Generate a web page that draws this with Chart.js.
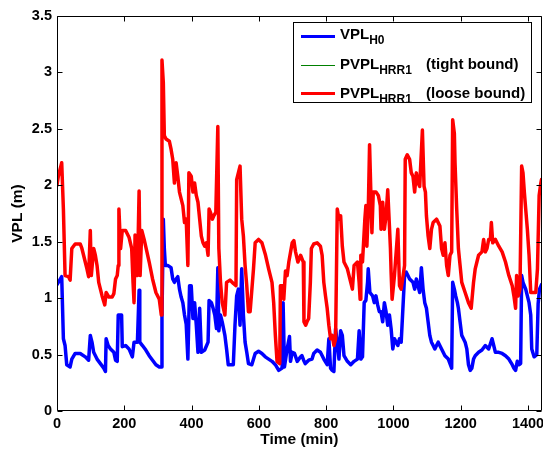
<!DOCTYPE html>
<html><head><meta charset="utf-8">
<script src="https://cdn.jsdelivr.net/npm/chart.js@4/dist/chart.umd.min.js"></script>
<style>
html,body{margin:0;padding:0;background:#fff;}
#wrap{position:relative;width:543px;height:451px;}
canvas{display:block}
#legend{position:absolute;left:293px;top:22px;width:239px;height:81px;border:1px solid #000;background:#fff;box-sizing:border-box;font-family:"Liberation Sans",Arial,sans-serif;font-weight:bold;color:#000;}
.ln{position:absolute;left:7px;width:34px;}
.txt{position:absolute;left:46px;font-size:15px;line-height:15px;white-space:nowrap;}
.txt sub{font-size:12px;vertical-align:baseline;position:relative;top:5px;}
.note{position:absolute;left:132px;font-size:15px;line-height:15px;white-space:nowrap;}
</style>
</head><body>
<div id="wrap">
<canvas id="c" width="543" height="451"></canvas>
<div id="legend"></div>
</div>
<script>
// ---- data ----
const xTickValues = [0, 200, 400, 600, 800, 1000, 1200, 1400];
const xTickLabels = ['0', '200', '400', '600', '800', '1000', '1200', '1400'];
const yTickValues = [0, 0.5, 1, 1.5, 2, 2.5, 3, 3.5];
const yTickLabels = ['0', '0.5', '1', '1.5', '2', '2.5', '3', '3.5'];
const xTitle = 'Time (min)';
const yTitle = 'VPL (m)';
const legendMain = ['VPL', 'PVPL', 'PVPL'];
const legendSub = ['H0', 'HRR1', 'HRR1'];
const legendNote = ['', '(tight bound)', '(loose bound)'];

const h0Time = [0,4,14,19,24,29,39,44,54,69,84,94,99,104,109,119,129,139,144,146,152,159,169,174,179,182,192,194,204,214,224,229,239,244,246,254,264,274,284,294,304,311,312,316,319,322,329,339,344,349,354,359,364,369,374,379,384,389,394,399,404,409,414,419,424,429,439,449,452,459,464,469,474,478,481,486,491,499,504,509,524,529,534,539,544,549,554,559,564,569,579,589,599,609,619,629,639,649,659,669,672,676,684,691,694,699,706,714,724,728,733,738,748,758,763,773,783,793,803,808,813,818,823,828,833,838,843,848,853,863,873,883,893,898,903,908,913,918,923,925,930,938,943,948,953,958,963,968,973,978,983,988,993,998,1003,1013,1018,1023,1033,1038,1043,1048,1058,1063,1068,1078,1083,1088,1093,1098,1103,1108,1113,1118,1123,1128,1133,1143,1153,1163,1173,1176,1181,1185,1190,1193,1198,1203,1208,1213,1218,1223,1228,1233,1238,1243,1253,1263,1273,1283,1293,1298,1303,1313,1323,1333,1343,1353,1358,1363,1368,1373,1378,1381,1385,1393,1403,1408,1411,1418,1426,1430,1434,1440];
const h0VPL = [1.12,1.14,1.19,0.64,0.58,0.41,0.39,0.46,0.51,0.51,0.48,0.45,0.67,0.61,0.52,0.46,0.42,0.38,0.35,0.64,0.58,0.55,0.52,0.45,0.44,0.85,0.85,0.57,0.58,0.55,0.48,0.61,0.61,1.07,0.61,0.58,0.54,0.49,0.45,0.41,0.39,0.39,0.82,1.70,1.44,1.29,1.29,1.27,1.17,1.14,1.17,1.19,1.08,1.01,0.96,0.85,0.77,0.46,1.11,1.11,0.82,0.96,0.76,0.52,0.91,0.52,0.54,0.61,0.98,0.96,0.91,0.85,0.73,1.27,0.71,0.85,0.79,0.67,0.55,0.41,0.41,0.76,1.02,1.08,0.76,1.26,0.85,0.61,0.52,0.42,0.41,0.51,0.53,0.51,0.48,0.46,0.44,0.41,0.36,0.38,0.96,0.39,0.55,0.66,0.44,0.52,0.51,0.44,0.48,0.49,0.45,0.42,0.45,0.46,0.51,0.54,0.52,0.46,0.41,0.64,0.38,0.36,0.35,0.73,0.61,0.46,0.71,0.67,0.49,0.44,0.41,0.44,0.46,0.71,0.46,0.48,0.96,0.98,1.14,1.26,1.05,1.02,0.96,1.02,0.94,0.88,0.88,0.79,0.96,0.88,0.76,0.85,0.73,0.55,0.64,0.58,0.64,0.61,1.20,1.23,1.20,1.17,1.14,1.08,1.17,1.05,1.27,1.08,0.96,0.91,0.79,0.67,0.61,0.58,0.55,0.58,0.61,0.55,0.49,0.46,0.38,1.14,1.08,1.02,0.96,0.91,0.79,0.67,0.64,0.61,0.55,0.41,0.36,0.38,0.46,0.49,0.52,0.54,0.58,0.55,0.64,0.58,0.52,0.52,0.51,0.49,0.46,0.41,0.38,0.36,0.44,0.41,0.42,1.20,1.14,1.08,0.96,0.85,0.55,0.48,0.50,0.95,1.08,1.12];

const looseTime = [0,4,14,19,24,34,39,44,54,69,74,84,89,94,99,102,109,114,119,124,134,142,146,154,164,169,174,179,182,184,189,194,204,214,222,226,229,232,239,244,247,252,259,274,284,294,304,310,312,316,319,324,334,339,344,349,354,359,364,369,374,379,384,389,392,399,404,409,414,419,424,429,434,439,444,449,452,456,462,466,472,478,481,486,491,499,504,514,524,532,534,539,544,549,554,559,564,569,574,584,589,599,609,619,629,639,644,649,654,662,664,672,674,679,684,689,699,704,709,716,724,732,734,739,743,748,753,756,763,773,783,788,793,798,803,808,813,818,823,828,833,838,843,848,853,863,873,878,883,893,898,901,903,908,915,918,921,925,929,933,936,940,948,955,961,963,968,973,978,983,988,991,993,996,1003,1013,1018,1023,1033,1035,1041,1048,1053,1058,1063,1068,1073,1078,1086,1091,1095,1098,1103,1108,1113,1118,1128,1138,1143,1148,1153,1158,1163,1168,1173,1176,1181,1183,1188,1193,1198,1203,1213,1223,1231,1238,1243,1248,1253,1263,1268,1273,1278,1283,1288,1291,1295,1303,1313,1323,1333,1343,1353,1358,1363,1366,1371,1376,1381,1385,1389,1393,1398,1403,1408,1418,1423,1428,1433,1438,1440];
const looseVPL = [2.00,2.08,2.20,1.79,1.20,1.19,1.16,1.44,1.48,1.48,1.44,1.32,1.26,1.19,1.60,1.20,1.44,1.38,1.29,1.14,1.02,0.94,1.05,1.01,1.01,1.04,1.17,1.20,1.29,1.79,1.44,1.60,1.60,1.54,1.44,1.14,0.96,1.56,1.20,1.95,1.20,1.60,1.52,1.32,1.17,1.05,0.99,0.85,3.11,2.91,2.44,2.41,2.39,2.32,2.23,2.02,2.20,2.08,1.94,1.88,1.82,1.67,1.70,1.29,2.11,2.08,1.94,2.02,1.91,1.85,1.70,1.55,1.49,1.46,1.49,1.38,1.79,1.76,1.70,1.73,1.76,2.52,1.44,1.14,0.96,0.85,1.14,1.16,1.13,1.11,2.05,2.11,2.17,1.70,1.55,1.29,1.11,0.88,0.88,1.26,1.49,1.52,1.49,1.39,1.26,1.14,0.96,0.67,0.44,0.42,1.11,1.11,0.99,1.24,1.20,1.32,1.49,1.51,1.41,1.32,1.38,1.32,0.79,0.76,0.79,0.82,1.14,1.44,1.48,1.49,1.46,1.38,1.14,1.02,0.91,0.76,0.64,0.67,0.58,0.64,1.79,1.70,1.73,1.46,1.32,1.26,1.14,1.08,1.29,1.32,1.14,0.99,1.38,1.32,1.70,1.82,1.46,1.76,2.36,1.91,1.58,1.94,1.94,1.91,1.82,1.61,1.85,1.61,1.73,1.96,1.64,1.44,1.23,0.99,1.20,1.61,1.11,1.08,1.29,2.23,2.27,2.23,2.11,2.08,1.94,2.11,2.02,1.99,2.49,1.99,1.94,1.73,1.55,1.44,1.61,1.67,1.70,1.64,1.44,1.38,1.49,1.29,1.20,1.38,1.41,2.58,2.46,2.20,1.79,1.44,1.29,1.14,1.05,0.96,0.91,1.14,1.26,1.32,1.38,1.41,1.52,1.41,1.44,1.52,1.52,1.67,1.49,1.52,1.46,1.41,1.32,1.20,1.11,1.02,0.91,1.20,1.02,1.08,2.17,2.11,1.94,1.79,1.61,1.38,1.05,1.05,1.05,1.26,1.91,2.02,2.05];

// tight bound lies under the loose bound curve in the figure
const tightTime = looseTime;
const tightVPL = looseVPL;

const seriesColors = ['#0000ff', '#008000', '#ff0000'];

// ---- legend (HTML, real text with subscripts) ----
const lg = document.getElementById('legend');
const rowText = [3.3, 32.6, 61.6];
const rowLine = [13.2, 41.5, 69.5];
const lineW = [3, 1, 3];
for (let i = 0; i < 3; i++) {
  const l = document.createElement('div');
  l.className = 'ln';
  l.style.top = (rowLine[i] - (lineW[i] > 1 ? 1 : 0)) + 'px';
  l.style.height = lineW[i] + 'px';
  l.style.background = seriesColors[i];
  lg.appendChild(l);
  const t = document.createElement('div');
  t.className = 'txt';
  t.style.top = rowText[i] + 'px';
  t.innerHTML = legendMain[i] + '<sub>' + legendSub[i] + '</sub>';
  lg.appendChild(t);
  if (legendNote[i]) {
    const n = document.createElement('div');
    n.className = 'note';
    n.style.top = rowText[i] + 'px';
    n.textContent = legendNote[i];
    lg.appendChild(n);
  }
}

// ---- chart ----
const FONT = '"Liberation Sans", Arial, sans-serif';
const toPts = (t, v) => t.map((x, i) => ({x: x, y: v[i]}));

const framePlugin = {
  id: 'frame',
  afterDraw(chart) {
    const {ctx, chartArea, scales} = chart;
    const L = Math.round(chartArea.left) + 0.5, R = Math.round(chartArea.right) - 0.5;
    const T = Math.round(chartArea.top) + 0.5, B = Math.round(chartArea.bottom) - 0.5;
    ctx.save();
    ctx.strokeStyle = '#000';
    ctx.lineWidth = 1;
    ctx.beginPath();
    ctx.rect(L, T, R - L, B - T);
    const tl = 5;
    xTickValues.forEach(v => {
      const p = Math.round(scales.x.getPixelForValue(v)) + 0.5;
      ctx.moveTo(p, B); ctx.lineTo(p, B - tl);
      ctx.moveTo(p, T); ctx.lineTo(p, T + tl);
    });
    yTickValues.forEach(v => {
      const p = Math.round(scales.y.getPixelForValue(v)) + 0.5;
      ctx.moveTo(L, p); ctx.lineTo(L + tl, p);
      ctx.moveTo(R, p); ctx.lineTo(R - tl, p);
    });
    ctx.stroke();
    ctx.restore();
  }
};

const lineStyle = {pointRadius: 0, tension: 0, fill: false, borderJoinStyle: 'round', borderCapStyle: 'round'};

new Chart(document.getElementById('c'), {
  type: 'line',
  data: {
    datasets: [
      Object.assign({label: 'PVPL HRR1 (loose bound)', data: toPts(looseTime, looseVPL), borderColor: seriesColors[2], borderWidth: 3.5, order: 0}, lineStyle),
      Object.assign({label: 'PVPL HRR1 (tight bound)', data: toPts(tightTime, tightVPL), borderColor: seriesColors[1], borderWidth: 1, order: 1}, lineStyle),
      Object.assign({label: 'VPL H0', data: toPts(h0Time, h0VPL), borderColor: seriesColors[0], borderWidth: 3.5, order: 2}, lineStyle)
    ]
  },
  options: {
    responsive: false,
    animation: false,
    devicePixelRatio: 1,
    layout: {padding: {top: 16, right: 1.5, left: 0, bottom: 0}},
    plugins: {legend: {display: false}, tooltip: {enabled: false}},
    scales: {
      x: {
        type: 'linear', min: 0, max: 1440,
        afterBuildTicks: s => { s.ticks = xTickValues.map(v => ({value: v})); },
        afterFit: s => { s.height = 40; s.paddingRight = 0; s.paddingLeft = 0; },
        ticks: {callback: (v, i) => xTickLabels[i], autoSkip: false, maxRotation: 0, color: '#000', padding: 4, font: {family: FONT, size: 14.5, weight: 'bold'}},
        grid: {display: false, drawTicks: false},
        border: {display: false},
        title: {display: true, text: xTitle, color: '#000', font: {family: FONT, size: 15.5, weight: 'bold'}, padding: {top: 0, bottom: 2}}
      },
      y: {
        type: 'linear', min: 0, max: 3.5,
        afterBuildTicks: s => { s.ticks = yTickValues.map(v => ({value: v})); },
        afterFit: s => { s.width = 57; s.paddingTop = 0; s.paddingBottom = 0; },
        ticks: {callback: (v, i) => yTickLabels[i], autoSkip: false, color: '#000', padding: 5, font: {family: FONT, size: 14.5, weight: 'bold'}},
        grid: {display: false, drawTicks: false},
        border: {display: false},
        title: {display: true, text: yTitle, color: '#000', font: {family: FONT, size: 15.5, weight: 'bold'}, padding: {top: 8, bottom: 0}}
      }
    }
  },
  plugins: [framePlugin]
});
</script>
</body></html>
